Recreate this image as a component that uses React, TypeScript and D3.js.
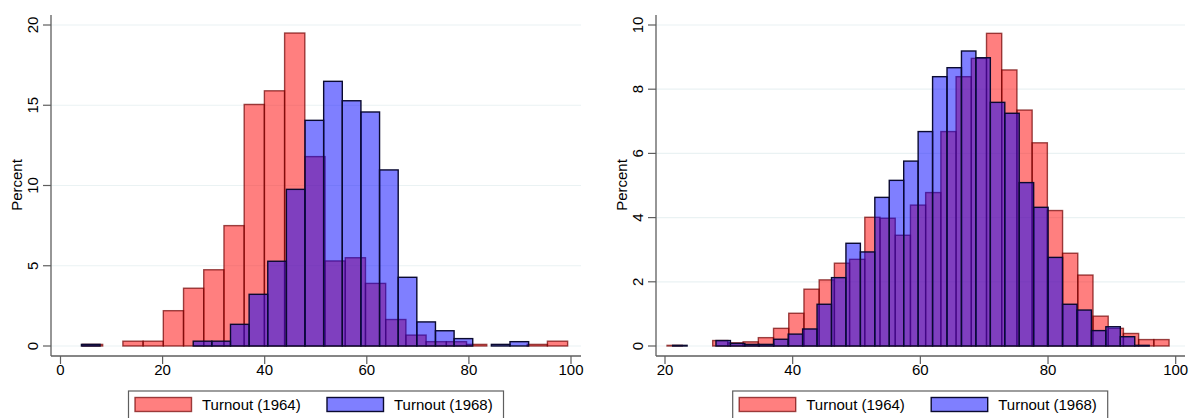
import React from "react";
import * as d3 from "d3";

// left panel: turnout histograms (percent per bin)
const leftStart1964 = 4.3;
const leftWidth1964 = 3.96;
const left1964 = [0.1, 0, 0.3, 0.3, 2.2, 3.6, 4.75, 7.5, 15.05, 15.9, 19.5, 11.8,
  5.3, 5.5, 3.9, 1.65, 0.68, 0.27, 0.27, 0.1, 0, 0, 0.1, 0.3];

const leftStart1968 = 4.1;
const leftWidth1968 = 3.65;
const left1968 = [0.1, 0, 0, 0, 0, 0, 0.3, 0.3, 1.35, 3.22, 5.28, 9.76, 14.06,
  16.49, 15.28, 14.58, 10.97, 4.28, 1.5, 0.95, 0.46, 0, 0.1, 0.27];

// right panel
const rightStart1964 = 20.32;
const rightWidth1964 = 2.383;
const right1964 = [0.02, 0, 0, 0.17, 0.1, 0.13, 0.26, 0.55, 1.02, 1.77, 2.06, 2.58,
  2.7, 4.01, 3.98, 3.45, 4.39, 4.78, 6.68, 8.39, 8.96, 9.74, 8.6, 7.35, 6.33,
  4.22, 2.89, 2.21, 0.93, 0.55, 0.39, 0.2, 0.2];

const rightStart1968 = 21.2;
const rightWidth1968 = 2.262;
const right1968 = [0.02, 0, 0, 0.17, 0.08, 0.05, 0.05, 0.21, 0.37, 0.53, 1.3, 2.13,
  3.2, 2.93, 4.63, 5.16, 5.76, 6.68, 8.39, 8.67, 9.19, 8.98, 7.59, 7.25, 5.09,
  4.32, 2.76, 1.3, 1.12, 0.48, 0.6, 0.29, 0.02];

const leftXTicks = [0, 20, 40, 60, 80, 100];
const leftYTicks = [0, 5, 10, 15, 20];
const rightXTicks = [20, 40, 60, 80, 100];
const rightYTicks = [0, 2, 4, 6, 8, 10];

const legendLabels = ["Turnout (1964)", "Turnout (1968)"];

const font = "'Liberation Sans', Arial, sans-serif";
const axisColor = "#5e5e5e";
const gridColor = "#eaf2f3";

const red = { fill: "rgb(255,0,0)", stroke: "#700000", strokeOpacity: 0.7 };
const blue = { fill: "rgb(0,0,255)", stroke: "#0a0a30", strokeOpacity: 1 };

function Bars({ start, width, values, x, y, style }) {
  return (
    <g>
      {values.map((v, i) => {
        if (v <= 0) return null;
        const x0 = x(start + i * width);
        const x1 = x(start + (i + 1) * width);
        return (
          <rect key={i} x={x0} y={y(v)} width={x1 - x0} height={y(0) - y(v)}
            fill={style.fill} fillOpacity={0.5}
            stroke={style.stroke} strokeOpacity={style.strokeOpacity} strokeWidth={1.4} />
        );
      })}
    </g>
  );
}

function Panel({ xDomain, xRange, yDomain, xTicks, yTicks, axisX, plotRight, labelX, legendX,
  data1964, data1968 }) {
  const x = d3.scaleLinear().domain(xDomain).range(xRange);
  const y = d3.scaleLinear().domain(yDomain).range([346, 25]);
  const bottom = 356;
  return (
    <g fontFamily={font} fontSize={15} fill="#000">
      {yTicks.map(t => (
        <line key={"g" + t} x1={axisX} x2={plotRight} y1={y(t)} y2={y(t)}
          stroke={gridColor} strokeWidth={1.2} />
      ))}
      <Bars {...data1964} x={x} y={y} style={red} />
      <Bars {...data1968} x={x} y={y} style={blue} />
      <line x1={axisX} x2={axisX} y1={15} y2={bottom} stroke={axisColor} strokeWidth={1.3} />
      <line x1={axisX} x2={plotRight} y1={bottom} y2={bottom} stroke={axisColor} strokeWidth={1.3} />
      {yTicks.map(t => (
        <g key={"y" + t}>
          <line x1={axisX - 8} x2={axisX} y1={y(t)} y2={y(t)} stroke={axisColor} strokeWidth={1.2} />
          <text transform={`translate(${axisX - 19},${y(t)}) rotate(-90)`} textAnchor="middle"
            dominantBaseline="central">{t}</text>
        </g>
      ))}
      {xTicks.map(t => (
        <g key={"x" + t}>
          <line x1={x(t)} x2={x(t)} y1={bottom} y2={bottom + 8} stroke={axisColor} strokeWidth={1.2} />
          <text x={x(t)} y={375} textAnchor="middle">{t}</text>
        </g>
      ))}
      <text transform={`translate(${labelX},185) rotate(-90)`} textAnchor="middle"
        dominantBaseline="central">Percent</text>
      <g transform={`translate(${legendX},391)`}>
        <rect x={0} y={0} width={375} height={40} fill="#fff" stroke={axisColor} strokeWidth={1.2} />
        <rect x={6.5} y={6.5} width={56.5} height={14} fill={red.fill} fillOpacity={0.5}
          stroke={red.stroke} strokeOpacity={red.strokeOpacity} strokeWidth={1.4} />
        <text x={73.5} y={19}>{legendLabels[0]}</text>
        <rect x={198.5} y={6.5} width={56.5} height={14} fill={blue.fill} fillOpacity={0.5}
          stroke={blue.stroke} strokeWidth={1.4} />
        <text x={265.5} y={19}>{legendLabels[1]}</text>
      </g>
    </g>
  );
}

export default function App() {
  return (
    <svg width={1191} height={418} style={{ position: "absolute", left: 0, top: 0, background: "#fff" }}>
      <Panel xDomain={[0, 100]} xRange={[60.5, 571]} yDomain={[0, 20]}
        xTicks={leftXTicks} yTicks={leftYTicks} axisX={51} plotRight={581} labelX={16} legendX={128.5}
        data1964={{ start: leftStart1964, width: leftWidth1964, values: left1964 }}
        data1968={{ start: leftStart1968, width: leftWidth1968, values: left1968 }} />
      <Panel xDomain={[20, 100]} xRange={[665, 1175.7]} yDomain={[0, 10]}
        xTicks={rightXTicks} yTicks={rightYTicks} axisX={656} plotRight={1185} labelX={621} legendX={732.7}
        data1964={{ start: rightStart1964, width: rightWidth1964, values: right1964 }}
        data1968={{ start: rightStart1968, width: rightWidth1968, values: right1968 }} />
    </svg>
  );
}
